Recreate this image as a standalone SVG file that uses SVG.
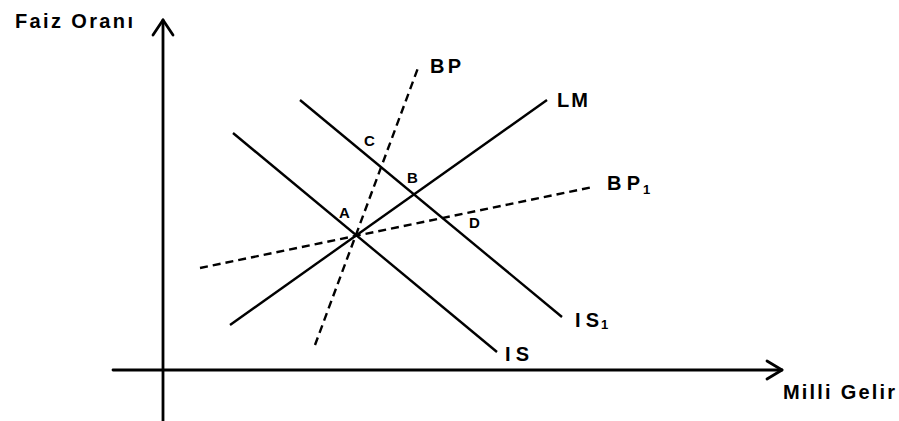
<svg xmlns="http://www.w3.org/2000/svg" width="899" height="421" viewBox="0 0 899 421">
<style>
.ax{stroke:#000;stroke-width:2.8;fill:none;stroke-linecap:round;stroke-linejoin:round}
.ln{stroke:#000;stroke-width:2.4;fill:none}
.ds{stroke:#000;stroke-width:2.4;fill:none;stroke-dasharray:8 5}
text{font-family:"Liberation Sans",Arial,sans-serif;font-weight:bold;fill:#000}
.big{font-size:20px}
.pt{font-size:15px}
.sub{font-size:13px}
</style>
<rect width="899" height="421" fill="#fff"/>
<g id="axes">
<line class="ax" x1="163" y1="421" x2="163" y2="20"/>
<polyline class="ax" points="153,35 163,20 173,35"/>
<line class="ax" x1="113" y1="370" x2="782" y2="370"/>
<polyline class="ax" points="767,361 782,370 767,379"/>
<text id="ylabel" x="15" y="28" textLength="118" lengthAdjust="spacing" class="big">Faiz Oranı</text>
<text id="xlabel" x="783" y="399" textLength="112" lengthAdjust="spacing" class="big">Milli Gelir</text>
</g>
<g id="connectors">
<line id="IS-line" class="ln" x1="233" y1="133" x2="497" y2="352"/>
<line id="IS1-line" class="ln" x1="300" y1="100" x2="562" y2="317"/>
<line id="LM-line" class="ln" x1="230" y1="325" x2="547" y2="100"/>
<line id="BP-line" class="ds" x1="315" y1="345" x2="418" y2="68"/>
<line id="BP1-line" class="ds" x1="200" y1="268" x2="593" y2="187"/>
</g>
<g id="IS"><text x="505" y="361" class="big" textLength="24" lengthAdjust="spacing">IS</text></g>
<g id="IS1"><text x="575" y="327" class="big" textLength="24" lengthAdjust="spacing">IS</text><text x="601" y="329" class="sub">1</text></g>
<g id="LM"><text x="557" y="107" class="big" textLength="31" lengthAdjust="spacing">LM</text></g>
<g id="BP"><text x="430" y="73" class="big" textLength="31" lengthAdjust="spacing">BP</text></g>
<g id="BP1"><text x="607" y="190" class="big" textLength="33" lengthAdjust="spacing">BP</text><text x="643" y="194" class="sub">1</text></g>
<g id="A"><text x="339" y="218" class="pt">A</text></g>
<g id="B"><text x="407" y="183" class="pt">B</text></g>
<g id="C"><text x="364" y="146" class="pt">C</text></g>
<g id="D"><text x="469" y="228" class="pt">D</text></g>
</svg>
